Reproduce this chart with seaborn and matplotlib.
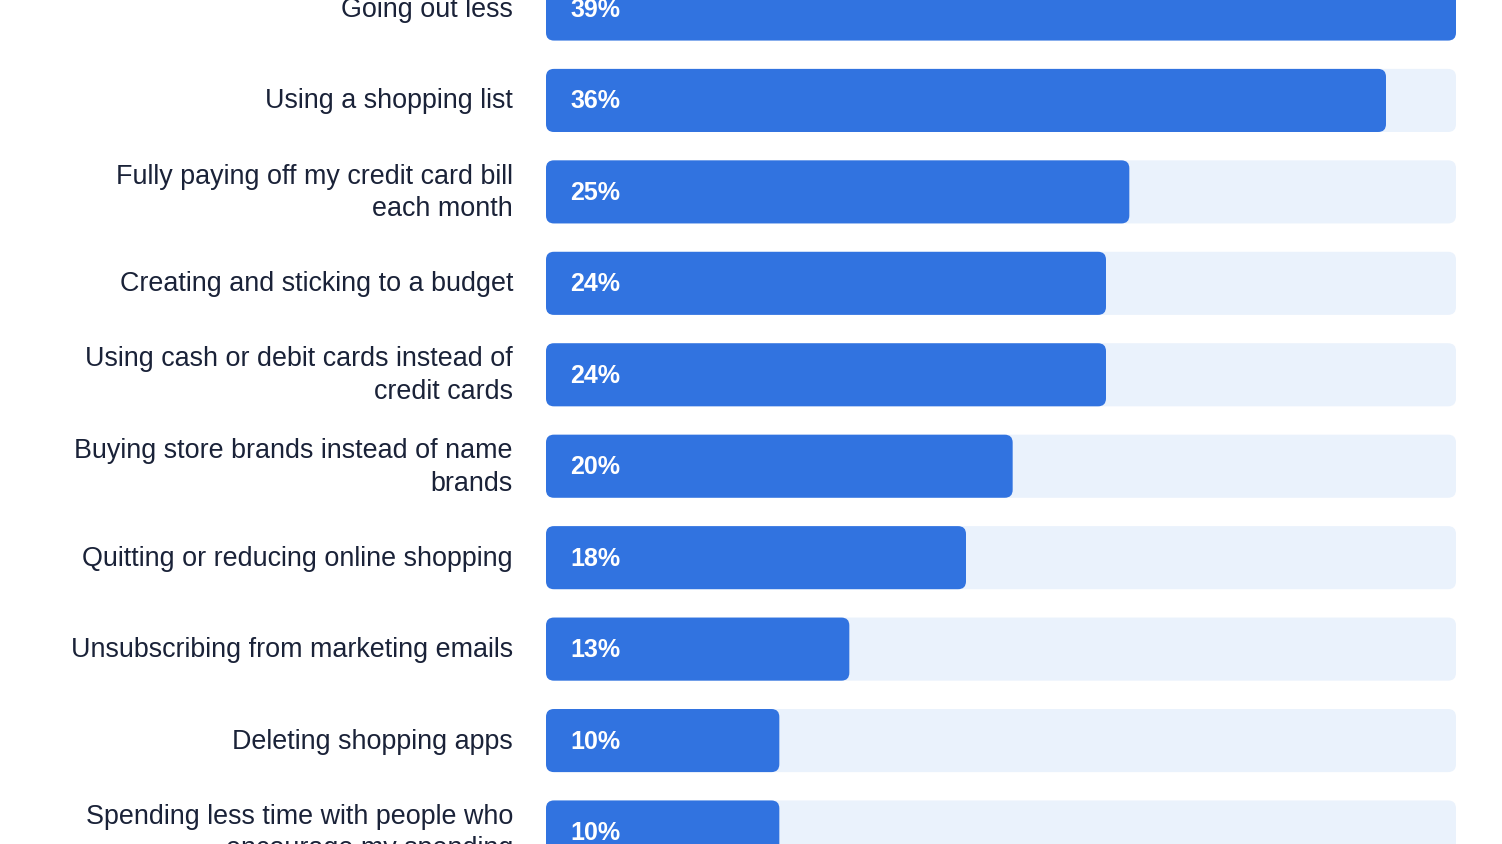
import matplotlib
matplotlib.use("Agg")
import matplotlib.pyplot as plt
from matplotlib.patches import FancyBboxPatch
import seaborn as sns
import pandas as pd

# ── Дані ──────────────────────────────────────────────────────────
labels = [
    "Going out less",
    "Using a shopping list",
    "Fully paying off my credit card bill\neach month",
    "Creating and sticking to a budget",
    "Using cash or debit cards instead of\ncredit cards",
    "Buying store brands instead of name\nbrands",
    "Quitting or reducing online shopping",
    "Unsubscribing from marketing emails",
    "Deleting shopping apps",
    "Spending less time with people who\nencourage my spending",
]
values = [39, 36, 25, 24, 24, 20, 18, 13, 10, 10]
track_max = 39

BLUE = "#3173E0"
TRACK = "#EAF2FC"
TEXT = "#1A2238"

sns.set_theme(style="white")
plt.rcParams["font.family"] = ["Liberation Sans", "DejaVu Sans"]

df = pd.DataFrame({"label": labels, "value": values, "track": [track_max] * len(values)})

fig = plt.figure(figsize=(15.02, 8.45), dpi=100)
ax = fig.add_axes([546 / 1502, 0, 910 / 1502, 1])

sns.barplot(data=df, y="label", x="track", color=TRACK, width=0.69, saturation=1, ax=ax, orient="h")
sns.barplot(data=df, y="label", x="value", color=BLUE, width=0.69, saturation=1, ax=ax, orient="h")

# заміна прямокутників на заокруглені
for p in list(ax.patches):
    x, y, w, h = p.get_x(), p.get_y(), p.get_width(), p.get_height()
    fc = p.get_facecolor()
    p.remove()
    ax.add_patch(FancyBboxPatch((x, y), w, h,
                                boxstyle="round,pad=0,rounding_size=0.34",
                                mutation_aspect=0.255, fc=fc, ec="none"))

for i, v in enumerate(values):
    ax.text(1.03, i, f"{v}%", color="white", fontsize=18, fontweight="bold",
            va="center", ha="left")
    ax.text(-33 * track_max / 910, i, labels[i], color=TEXT, fontsize=19.4,
            va="center", ha="right", linespacing=1.33)

ax.set_xlim(0, track_max)
ax.set_ylim(9 + 12 / 91.44, -10 / 91.44)
ax.set_yticks([])
ax.set_xticks([])
ax.set_xlabel("")
ax.set_ylabel("")
sns.despine(ax=ax, left=True, bottom=True)

fig.savefig("out.png", dpi=100, facecolor="white")
